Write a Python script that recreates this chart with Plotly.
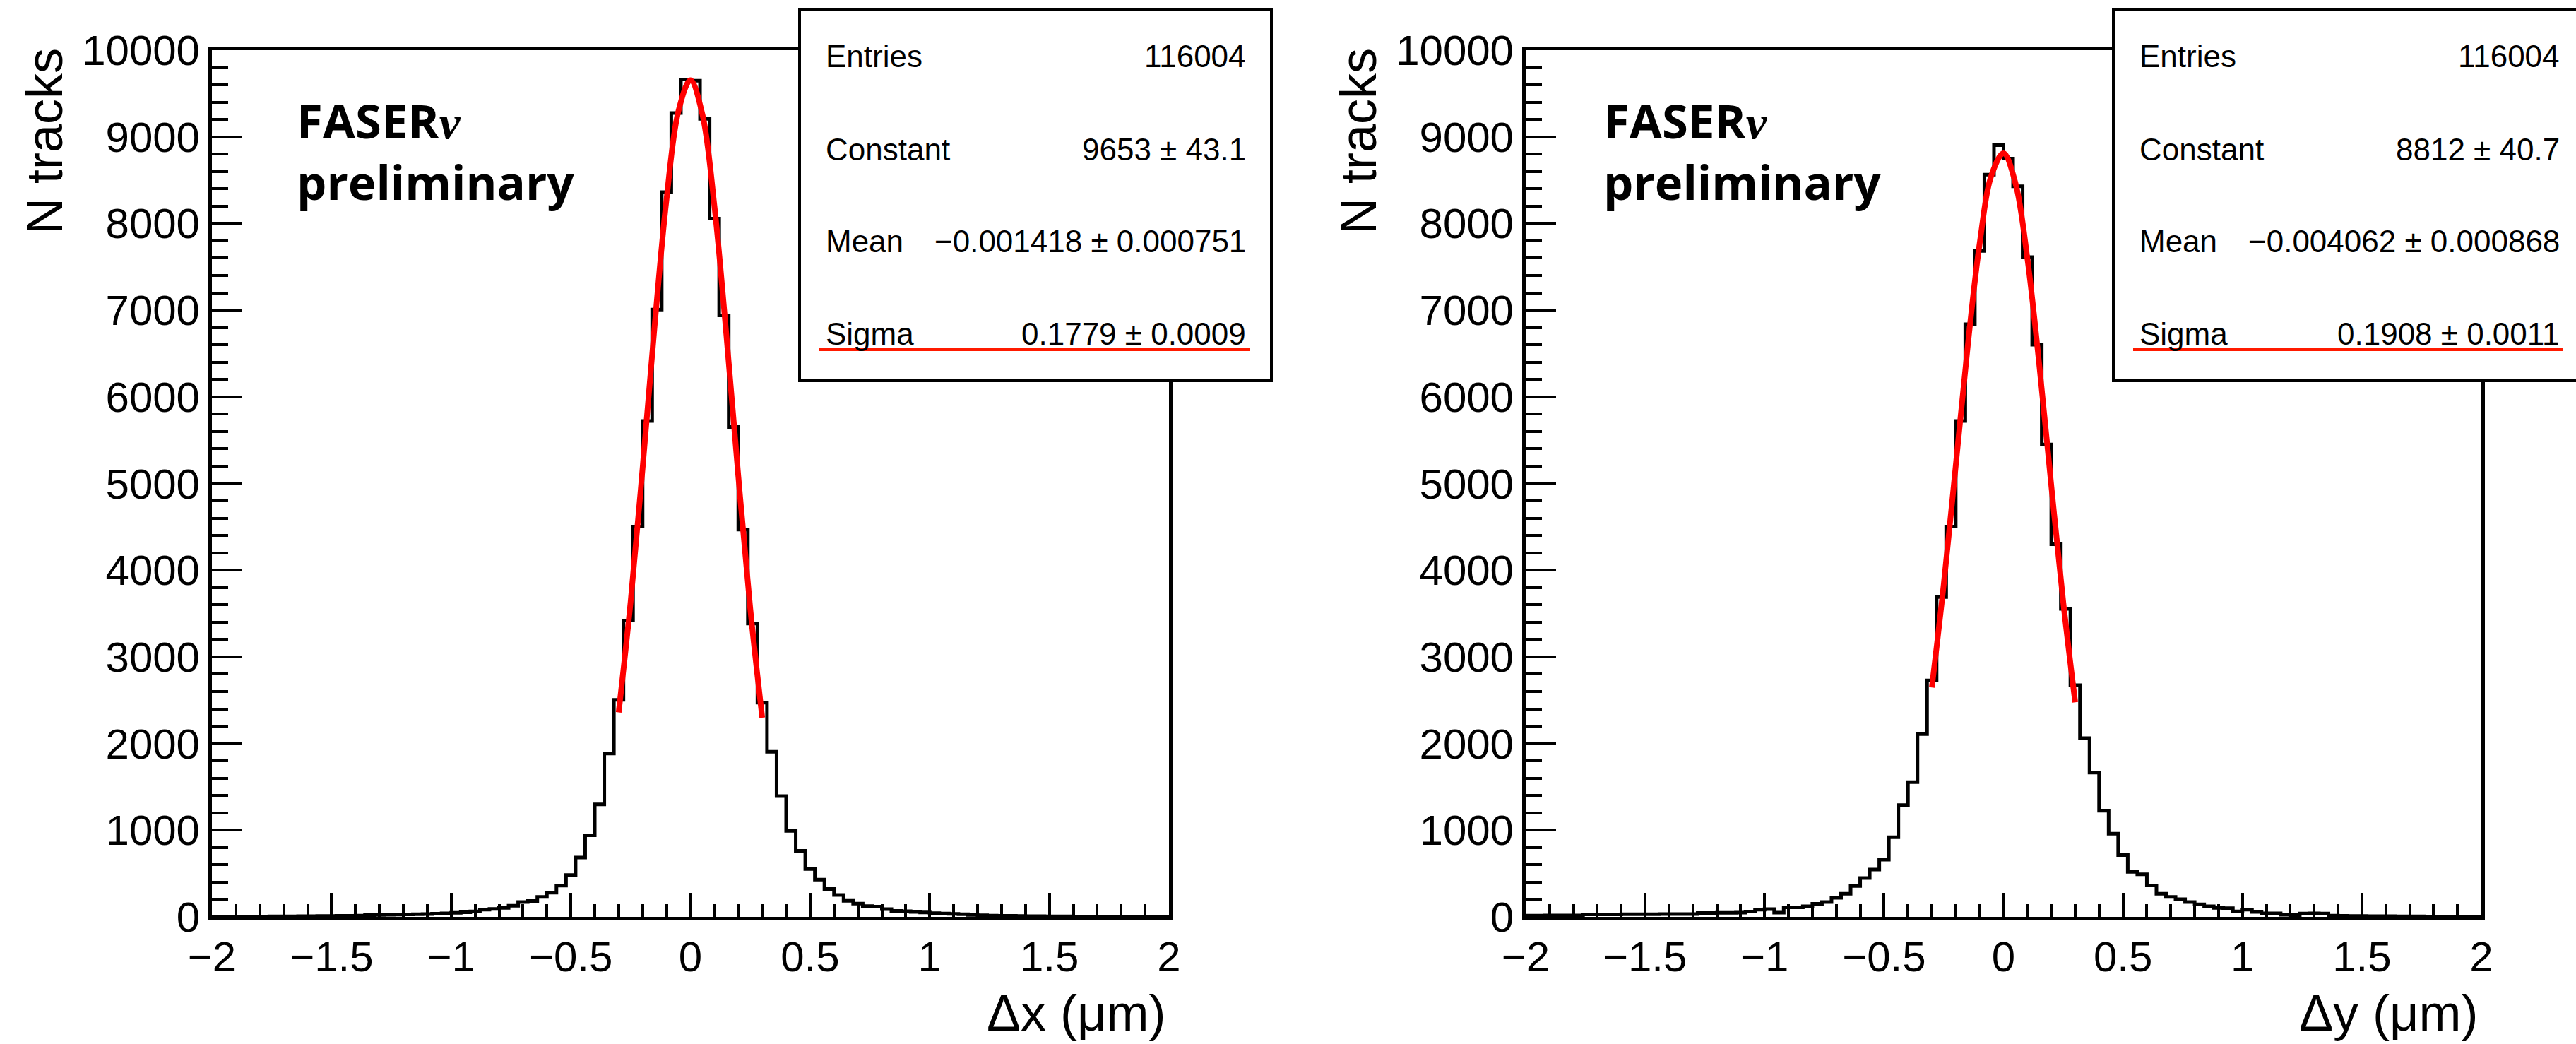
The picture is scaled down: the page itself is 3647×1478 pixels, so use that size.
import plotly.graph_objects as go

# ---------------- data ----------------
BIN_LOW = -2.0
BIN_WIDTH = 0.04
N_BINS = 100

# Δx histogram: counts per bin (bins of 0.04 from -2 to 2)
counts_dx = [
    3, 3, 4, 4, 5, 5, 6, 6, 7, 8,
    9, 10, 11, 12, 13, 15, 21, 23, 25, 27,
    29, 31, 33, 36, 40, 47, 52, 63, 84, 92,
    104, 128, 172, 184, 231, 280, 360, 483, 685, 941,
    1298, 1885, 2505, 3419, 4502, 5721, 7007, 8361, 9275, 9661,
    9648, 9207, 8056, 6939, 5653, 4468, 3385, 2471, 1905, 1393,
    993, 762, 552, 430, 321, 253, 185, 152, 125, 118,
    90, 70, 65, 57, 50, 42, 38, 35, 30, 22,
    18, 15, 13, 12, 10, 9, 8, 7, 6, 6,
    5, 5, 4, 4, 3, 3, 3, 2, 2, 2,
]

# Δy histogram
counts_dy = [
    15, 15, 16, 16, 17, 17, 28, 28, 29, 29,
    30, 30, 31, 31, 32, 32, 33, 33, 44, 45,
    46, 47, 48, 62, 84, 90, 49, 111, 111, 122,
    150, 171, 220, 267, 356, 449, 547, 661, 919, 1290,
    1555, 2108, 2728, 3690, 4502, 5721, 6838, 7684, 8564, 8903,
    8750, 8429, 7612, 6601, 5450, 4299, 3554, 2674, 2062, 1665,
    1225, 960, 713, 520, 492, 362, 267, 231, 204, 171,
    144, 122, 103, 100, 63, 84, 57, 41, 41, 25,
    20, 38, 40, 38, 14, 12, 11, 10, 9, 8,
    8, 7, 6, 6, 5, 5, 4, 4, 3, 3,
]

# red fit curves
fit_x = [-0.30, -0.25, -0.20, -0.15, -0.10, -0.05, 0.0, 0.05, 0.10, 0.15, 0.20, 0.25, 0.30]
fit_dx = [2360, 3636, 5177, 6810, 8279, 9300, 9653, 9258, 8206, 6720, 5086, 3556, 2298]
fit_dy = [2647, 3840, 5202, 6578, 7766, 8560, 8810, 8465, 7594, 6360, 4974, 3631, 2475]

stat_labels = ["Entries", "Constant", "Mean", "Sigma"]
stat_values_dx = ["116004", "9653 ± 43.1", "−0.001418 ± 0.000751", "0.1779 ± 0.0009"]
stat_values_dy = ["116004", "8812 ± 40.7", "−0.004062 ± 0.000868", "0.1908 ± 0.0011"]

xtick_vals = [-2, -1.5, -1, -0.5, 0, 0.5, 1, 1.5, 2]
xtick_text = ["−2", "−1.5", "−1", "−0.5", "0", "0.5", "1", "1.5", "2"]
ytick_vals = [0, 1000, 2000, 3000, 4000, 5000, 6000, 7000, 8000, 9000, 10000]
ytick_text = ["0", "1000", "2000", "3000", "4000", "5000", "6000", "7000", "8000", "9000", "10000"]

x_titles = ["Δx (μm)", "Δy (μm)"]
y_title = "N tracks"
label_text = "FASER<span style=\"font-family:Liberation Serif;font-style:italic\">ν</span><br>preliminary"

# ---------------- layout geometry (pixels) ----------------
W, H = 3647, 1478
FONT = "Liberation Sans, Arial, sans-serif"


def px(x):
    return x / W


def py(y):
    return 1 - y / H


FRAME_TOP, FRAME_BOTTOM = 71, 1298
panels = [
    dict(L=300, R=1655, box=1132, faser=418, counts=counts_dx, fit=fit_dx,
         stats=stat_values_dx, title=x_titles[0], xa="x", ya="y"),
    dict(L=2160, R=3513, box=2992, faser=2268, counts=counts_dy, fit=fit_dy,
         stats=stat_values_dy, title=x_titles[1], xa="x2", ya="y2"),
]

edges = [round(BIN_LOW + BIN_WIDTH * i, 2) for i in range(N_BINS + 1)]

fig = go.Figure()
annotations = []
shapes = []
layout_axes = {}

for i, p in enumerate(panels):
    suffix = "" if i == 0 else str(i + 1)
    fig.add_trace(go.Scatter(
        x=edges, y=p["counts"] + [p["counts"][-1]],
        mode="lines", line=dict(color="black", width=5, shape="hv"),
        xaxis=p["xa"], yaxis=p["ya"], hoverinfo="skip", showlegend=False))
    fig.add_trace(go.Scatter(
        x=fit_x, y=p["fit"], mode="lines",
        line=dict(color="#ff0000", width=8, shape="spline"),
        xaxis=p["xa"], yaxis=p["ya"], hoverinfo="skip", showlegend=False))

    layout_axes["xaxis" + suffix] = dict(
        domain=[px(p["L"]), px(p["R"])], range=[-2, 2], anchor="y" + suffix,
        tickmode="array", tickvals=xtick_vals, ticktext=xtick_text,
        ticks="inside", ticklen=34, tickwidth=4, tickcolor="black",
        minor=dict(tickmode="linear", tick0=-2, dtick=0.1, ticks="inside",
                   ticklen=18, tickwidth=4, tickcolor="black", showgrid=False),
        showline=True, linewidth=5, linecolor="black", mirror=True,
        showgrid=False, zeroline=False, automargin=False,
        tickfont=dict(family=FONT, size=60, color="black"), fixedrange=True)
    layout_axes["yaxis" + suffix] = dict(
        domain=[py(FRAME_BOTTOM), py(FRAME_TOP)], range=[0, 10000], anchor="x" + suffix,
        tickmode="array", tickvals=ytick_vals, ticktext=ytick_text,
        ticks="inside", ticklen=43, tickwidth=4, tickcolor="black",
        minor=dict(tickmode="linear", tick0=0, dtick=200, ticks="inside",
                   ticklen=23, tickwidth=4, tickcolor="black", showgrid=False),
        showline=True, linewidth=5, linecolor="black", mirror=True,
        showgrid=False, zeroline=False, automargin=False,
        tickfont=dict(family=FONT, size=60, color="black"), fixedrange=True)

    # y title (top aligned, rotated)
    annotations.append(dict(
        text=y_title, textangle=-90, xref="paper", yref="paper",
        x=px(p["L"] - 237), y=py(66), xanchor="center", yanchor="top",
        showarrow=False, font=dict(family=FONT, size=72, color="black")))
    # x title (right aligned)
    annotations.append(dict(
        text=p["title"], xref="paper", yref="paper",
        x=px(p["R"] - 2), y=py(1434), xanchor="right", yanchor="middle",
        showarrow=False, font=dict(family=FONT, size=72, color="black")))
    # FASERν preliminary
    annotations.append(dict(
        text=label_text, align="left",
        xref="paper", yref="paper", x=px(p["faser"]), y=py(213), xanchor="left",
        yanchor="middle", showarrow=False,
        font=dict(family="Open Sans", size=67, color="black", weight="bold")))

    # stats box
    B = p["box"]
    shapes.append(dict(type="rect", xref="paper", yref="paper", layer="above",
                       x0=px(B), x1=px(B + 668), y0=py(14), y1=py(539),
                       fillcolor="white", line=dict(color="black", width=4)))
    shapes.append(dict(type="line", xref="paper", yref="paper", layer="above",
                       x0=px(B + 28), x1=px(B + 637), y0=py(495), y1=py(495),
                       line=dict(color="#ff1a00", width=4)))
    row_y = [80, 211, 342, 472]
    for lab, val, ry in zip(stat_labels, p["stats"], row_y):
        annotations.append(dict(
            text=lab, xref="paper", yref="paper", x=px(B + 35), y=py(ry),
            xanchor="left", yanchor="middle", showarrow=False,
            font=dict(family=FONT, size=44, color="black")))
        annotations.append(dict(
            text=val, xref="paper", yref="paper", x=px(B + 634), y=py(ry),
            xanchor="right", yanchor="middle", showarrow=False,
            font=dict(family=FONT, size=44, color="black")))

fig.update_layout(
    width=W, height=H, autosize=False,
    margin=dict(l=0, r=0, t=0, b=0, pad=0, autoexpand=False),
    paper_bgcolor="white", plot_bgcolor="white",
    showlegend=False, hovermode=False,
    annotations=annotations, shapes=shapes,
    **layout_axes)

fig.write_html("out.html", config={"displayModeBar": False})
